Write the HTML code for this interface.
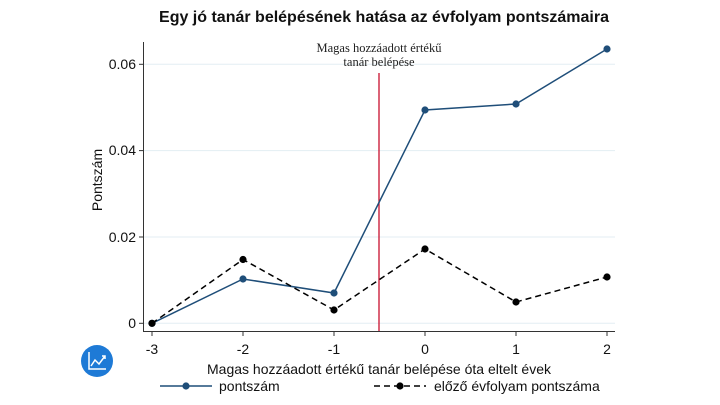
<!DOCTYPE html><html><head><style>body{margin:0;background:#fff}svg{display:block}</style></head><body>
<svg width="720" height="405" xmlns="http://www.w3.org/2000/svg" font-family="Liberation Sans, sans-serif">
<rect width="720" height="405" fill="#fff"/>
<text x="384" y="22" font-size="16" font-weight="bold" text-anchor="middle" fill="#111">Egy jó tanár belépésének hatása az évfolyam pontszámaira</text>
<g stroke="#e3eef3" stroke-width="1">
<line x1="144" x2="615" y1="64.3" y2="64.3"/><line x1="144" x2="615" y1="150.6" y2="150.6"/><line x1="144" x2="615" y1="237" y2="237"/><line x1="144" x2="615" y1="323.3" y2="323.3"/></g>
<g stroke="#333" stroke-width="1"><line x1="143.5" y1="42" x2="143.5" y2="331.5"/><line x1="143" y1="331.5" x2="615" y2="331.5"/>
<line x1="139" x2="143" y1="64.3" y2="64.3"/><line x1="139" x2="143" y1="150.6" y2="150.6"/><line x1="139" x2="143" y1="237" y2="237"/><line x1="139" x2="143" y1="323.3" y2="323.3"/>
<line x1="152" x2="152" y1="332" y2="336"/><line x1="243" x2="243" y1="332" y2="336"/><line x1="334" x2="334" y1="332" y2="336"/><line x1="425" x2="425" y1="332" y2="336"/><line x1="516" x2="516" y1="332" y2="336"/><line x1="607" x2="607" y1="332" y2="336"/></g>
<g font-size="14" fill="#111" text-anchor="end"><text x="136" y="69">0.06</text><text x="136" y="155">0.04</text><text x="136" y="242">0.02</text><text x="136" y="328">0</text></g>
<g font-size="14" fill="#111" text-anchor="middle"><text x="152" y="354">-3</text><text x="243" y="354">-2</text><text x="334" y="354">-1</text><text x="425" y="354">0</text><text x="516" y="354">1</text><text x="607" y="354">2</text>
<text x="379" y="374">Magas hozzáadott értékű tanár belépése óta eltelt évek</text></g>
<text transform="translate(102,180) rotate(-90)" font-size="14" text-anchor="middle" fill="#111">Pontszám</text>
<line x1="379" x2="379" y1="73" y2="331" stroke="#c8102e" stroke-width="1.3"/>
<g font-family="Liberation Serif, serif" font-size="12.5" text-anchor="middle" fill="#222"><text x="379" y="52">Magas hozzáadott értékű</text><text x="379" y="66">tanár belépése</text></g>
<polyline points="152,323.3 243,279 334,293 425,110 516,104 607,49" fill="none" stroke="#1f4e79" stroke-width="1.5"/>
<g fill="#1f4e79"><circle cx="152" cy="323.3" r="3.6"/><circle cx="243" cy="279" r="3.6"/><circle cx="334" cy="293" r="3.6"/><circle cx="425" cy="110" r="3.6"/><circle cx="516" cy="104" r="3.6"/><circle cx="607" cy="49" r="3.6"/></g>
<polyline points="152,323.3 243,259.5 334,310 425,249 516,302 607,277" fill="none" stroke="#000" stroke-width="1.5" stroke-dasharray="6,4"/>
<g fill="#000"><circle cx="152" cy="323.3" r="3.6"/><circle cx="243" cy="259.5" r="3.6"/><circle cx="334" cy="310" r="3.6"/><circle cx="425" cy="249" r="3.6"/><circle cx="516" cy="302" r="3.6"/><circle cx="607" cy="277" r="3.6"/></g>
<line x1="160" x2="212" y1="386" y2="386" stroke="#1f4e79" stroke-width="1.5"/><circle cx="186" cy="386" r="3.6" fill="#1f4e79"/>
<text x="219" y="391" font-size="14" fill="#111">pontszám</text>
<line x1="374" x2="426" y1="386" y2="386" stroke="#000" stroke-width="1.5" stroke-dasharray="6,4"/><circle cx="400" cy="386" r="3.6"/>
<text x="434" y="391" font-size="14" fill="#111">előző évfolyam pontszáma</text>
<circle cx="97" cy="361" r="16" fill="#1e7ad6"/>
<polyline points="89,352 89,369 106,369" fill="none" stroke="#fff" stroke-width="1.5"/>
<polyline points="91,366 95,360 99,364 105,356" fill="none" stroke="#fff" stroke-width="1.5"/>
<polyline points="102,356 105,356 105,359" fill="none" stroke="#fff" stroke-width="1.5"/>
</svg></body></html>
